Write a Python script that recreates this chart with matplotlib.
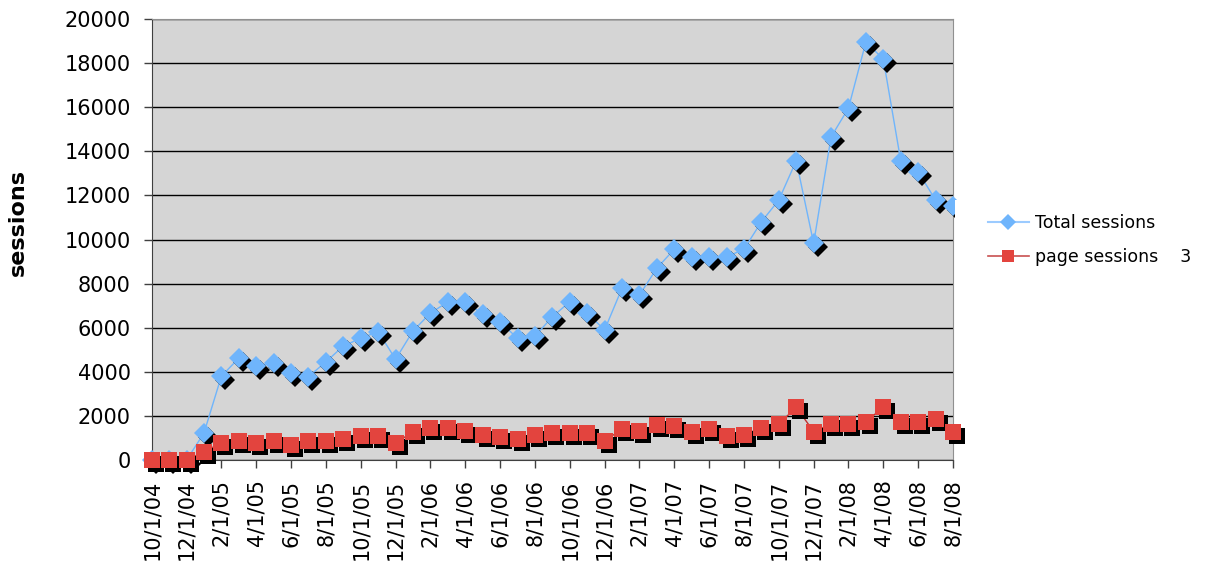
import numpy as np
import matplotlib
matplotlib.use("Agg")
import matplotlib.pyplot as plt
from matplotlib.transforms import offset_copy
from matplotlib.patches import Rectangle

# monthly values, 10/1/04 .. 8/1/08
total_sessions = [0, 0, 0, 1220, 3800, 4620, 4270, 4390, 3930, 3780, 4450, 5170,
                  5520, 5820, 4570, 5850, 6660, 7170, 7170, 6620, 6260, 5520, 5620,
                  6490, 7180, 6660, 5900, 7790, 7480, 8700, 9560, 9210, 9210, 9210,
                  9560, 10800, 11790, 13570, 9830, 14650, 15960, 18960, 18180, 13570,
                  13070, 11790, 11500]
page_sessions = [0, 0, 0, 370, 780, 870, 780, 870, 680, 870, 870, 950,
                 1090, 1090, 760, 1290, 1440, 1440, 1300, 1130, 1060, 950, 1130,
                 1210, 1210, 1210, 870, 1400, 1300, 1590, 1540, 1290, 1390, 1090,
                 1130, 1470, 1630, 2390, 1290, 1630, 1630, 1740, 2390, 1740,
                 1740, 1850, 1290]
tick_labels = ['10/1/04', '12/1/04', '2/1/05', '4/1/05', '6/1/05', '8/1/05',
               '10/1/05', '12/1/05', '2/1/06', '4/1/06', '6/1/06', '8/1/06',
               '10/1/06', '12/1/06', '2/1/07', '4/1/07', '6/1/07', '8/1/07',
               '10/1/07', '12/1/07', '2/1/08', '4/1/08', '6/1/08', '8/1/08']

blue = '#6fb5fc'
red = '#e3443e'

fig = plt.figure(figsize=(12.06, 5.71), dpi=100)
ax = fig.add_axes([151.7 / 1206, 1 - 460 / 571, (953 - 151.7) / 1206, (460 - 19) / 571])
ax.set_facecolor('#d5d5d5')

x = np.arange(len(total_sessions))
shadow = offset_copy(ax.transData, fig=fig, x=4, y=-4, units='dots')

ax.plot(x, total_sessions, color=blue, lw=1, zorder=3, clip_on=False)
ax.plot(x, total_sessions, 'D', color='black', ms=10, mew=0, transform=shadow,
        zorder=3, clip_on=False)
ax.plot(x, total_sessions, 'D', color=blue, ms=10, mew=0, zorder=4, clip_on=False)

ax.plot(x, page_sessions, color='#c03030', lw=1, zorder=5, clip_on=False)
ax.plot(x, page_sessions, 's', color='black', ms=12, mew=0, transform=shadow,
        zorder=5, clip_on=False)
ax.plot(x, page_sessions, 's', color=red, ms=12, mew=0, zorder=6, clip_on=False)

ax.set_xlim(0, len(total_sessions) - 1)
ax.set_ylim(0, 20000)
ax.set_yticks(np.arange(0, 20001, 2000))
ax.set_xticks(x[::2])
ax.set_xticklabels(tick_labels, rotation=90)
ax.yaxis.grid(True, color='black', lw=1)
ax.set_axisbelow(True)
ax.tick_params(axis='both', direction='out', length=6, width=1, labelsize=15,
               color='#404040')
ax.tick_params(axis='y', pad=9)
ax.tick_params(axis='x', pad=8)

for side in ['top', 'right']:
    ax.spines[side].set_color('#909090')
for side in ['left', 'bottom']:
    ax.spines[side].set_color('#404040')

fig.text(18 / 1206, 1 - 223 / 571, 'sessions', rotation=90, fontsize=16,
         fontweight='bold', ha='center', va='center')

# white legend area over the right border
fig.patches.append(Rectangle((955 / 1206, 1 - 272 / 571), 250 / 1206, 72 / 571,
                             transform=fig.transFigure, facecolor='white',
                             edgecolor='none', zorder=10))

h1, = plt.plot([], [], color='#9ccbff', lw=1.5, marker='D', ms=8, mfc=blue, mew=0)
h2, = plt.plot([], [], color='#c85050', lw=1.2, marker='s', ms=8, mfc=red, mew=0)
leg = fig.legend([h1, h2], ['Total sessions', 'page sessions    3'],
                 loc='center left', bbox_to_anchor=(972 / 1206, 1 - 240 / 571),
                 frameon=False, fontsize=12.5, handlelength=2.4,
                 labelspacing=0.9, handletextpad=0.35)
leg.set_zorder(11)

fig.savefig('out.png', dpi=100)
